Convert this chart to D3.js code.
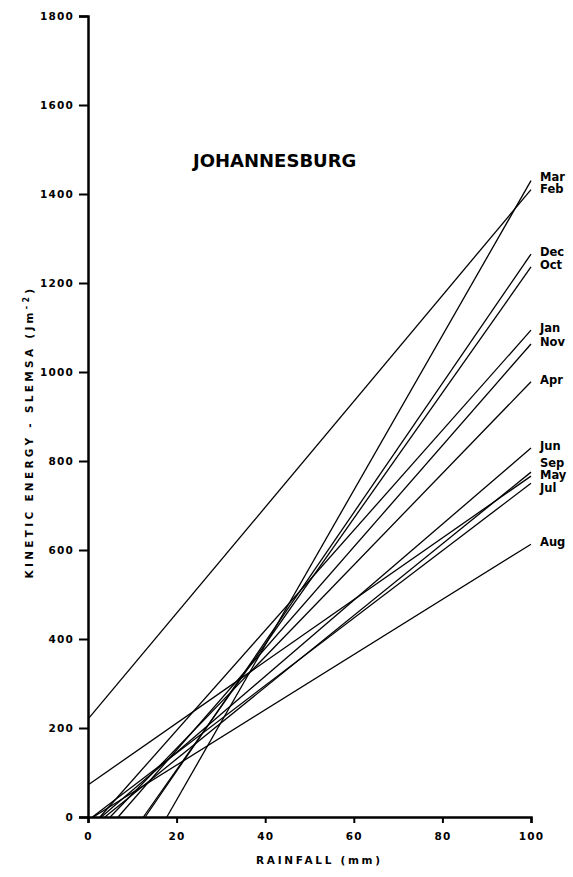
<!DOCTYPE html>
<html>
<head>
<meta charset="utf-8">
<script src="https://cdn.jsdelivr.net/npm/d3@7"></script>
<style>
  body { margin: 0; background: #fff; }
  svg { display: block; }
  text { font-family: "DejaVu Sans", sans-serif; font-weight: bold; fill: #000; }
</style>
</head>
<body>
<div id="chart"></div>
<script>
// months, with where each regression line starts and its value at 100 mm
const months      = ['Mar', 'Feb', 'Dec', 'Oct', 'Jan', 'Nov', 'Apr', 'Jun', 'Sep', 'May', 'Jul', 'Aug'];
const startRain   = [17.8, 0, 12.9, 12.5, 2.7, 6.8, 5.0, 3.0, 3.8, 0, 1.0, 1.2];
const startEnergy = [0, 220, 0, 0, 0, 0, 0, 0, 0, 72, 0, 0];
const endEnergy   = [1430, 1410, 1265, 1236, 1094, 1063, 978, 829, 775, 766, 750, 613];
const endRain = 100;

const xTicks = [0, 20, 40, 60, 80, 100];
const yTicks = [0, 200, 400, 600, 800, 1000, 1200, 1400, 1600, 1800];

const width = 573, height = 877;
const margin = { top: 16, right: 42, bottom: 60, left: 88 };

const svg = d3.select('#chart')
  .append('svg')
  .attr('width', width)
  .attr('height', height);

const x = d3.scaleLinear().domain([0, 100]).range([margin.left, width - margin.right]);
const y = d3.scaleLinear().domain([0, 1800]).range([height - margin.bottom, margin.top]);

// regression lines
const lines = months.map((m, i) => ({
  month: m,
  pts: [[startRain[i], startEnergy[i]], [endRain, endEnergy[i]]]
}));

svg.append('g')
  .selectAll('line')
  .data(lines)
  .join('line')
  .attr('x1', d => x(d.pts[0][0]))
  .attr('y1', d => y(d.pts[0][1]))
  .attr('x2', d => x(d.pts[1][0]))
  .attr('y2', d => y(d.pts[1][1]))
  .attr('stroke', '#000')
  .attr('stroke-width', 1.3);

// axes
const xAxis = svg.append('g')
  .attr('transform', `translate(0,${y(0)})`)
  .call(d3.axisBottom(x).tickValues(xTicks).tickFormat(d3.format('d')).tickSize(6).tickPadding(10));

const yAxis = svg.append('g')
  .attr('transform', `translate(${x(0)},0)`)
  .call(d3.axisLeft(y).tickValues(yTicks).tickFormat(d3.format('d')).tickSize(9).tickPadding(5));

[xAxis, yAxis].forEach(g => {
  g.select('.domain').attr('stroke-width', 2.5);
  g.selectAll('.tick line').attr('stroke-width', 2);
  g.selectAll('.tick text')
    .style('font-size', '10.5px')
    .style('letter-spacing', '1.2px')
    .style('font-family', '"DejaVu Sans", sans-serif')
    .style('font-weight', 'bold');
});

// month labels at the line ends, nudged apart so they don't overlap
const labels = lines.map(d => ({ month: d.month, pos: y(d.pts[1][1]) }))
  .sort((a, b) => a.pos - b.pos);
const gap = 12.5;
for (let k = 0; k < 30; k++) {
  for (let i = 1; i < labels.length; i++) {
    const over = gap - (labels[i].pos - labels[i - 1].pos);
    if (over > 0) {
      labels[i - 1].pos -= over / 2;
      labels[i].pos += over / 2;
    }
  }
}

svg.append('g')
  .selectAll('text')
  .data(labels)
  .join('text')
  .attr('x', x(100) + 9)
  .attr('y', d => d.pos - 2)
  .attr('dominant-baseline', 'central')
  .style('font-size', '11.5px')
  .text(d => d.month);

// title
svg.append('text')
  .attr('x', 193)
  .attr('y', 167)
  .style('font-size', '18px')
  .text('JOHANNESBURG');

// axis titles
svg.append('text')
  .attr('x', 318)
  .attr('y', 864)
  .attr('text-anchor', 'middle')
  .attr('textLength', 124)
  .attr('lengthAdjust', 'spacing')
  .style('font-size', '10.5px')
  .text('RAINFALL  (mm)');

const yTitle = svg.append('text')
  .attr('transform', 'translate(33,432) rotate(-90)')
  .attr('text-anchor', 'middle')
  .style('font-size', '10.5px')
  .style('letter-spacing', '3.3px');
yTitle.append('tspan').text('KINETIC  ENERGY - SLEMSA   (Jm');
yTitle.append('tspan').attr('dy', -4).style('font-size', '8px').text('-2');
yTitle.append('tspan').attr('dy', 4).text(')');
</script>
</body>
</html>
